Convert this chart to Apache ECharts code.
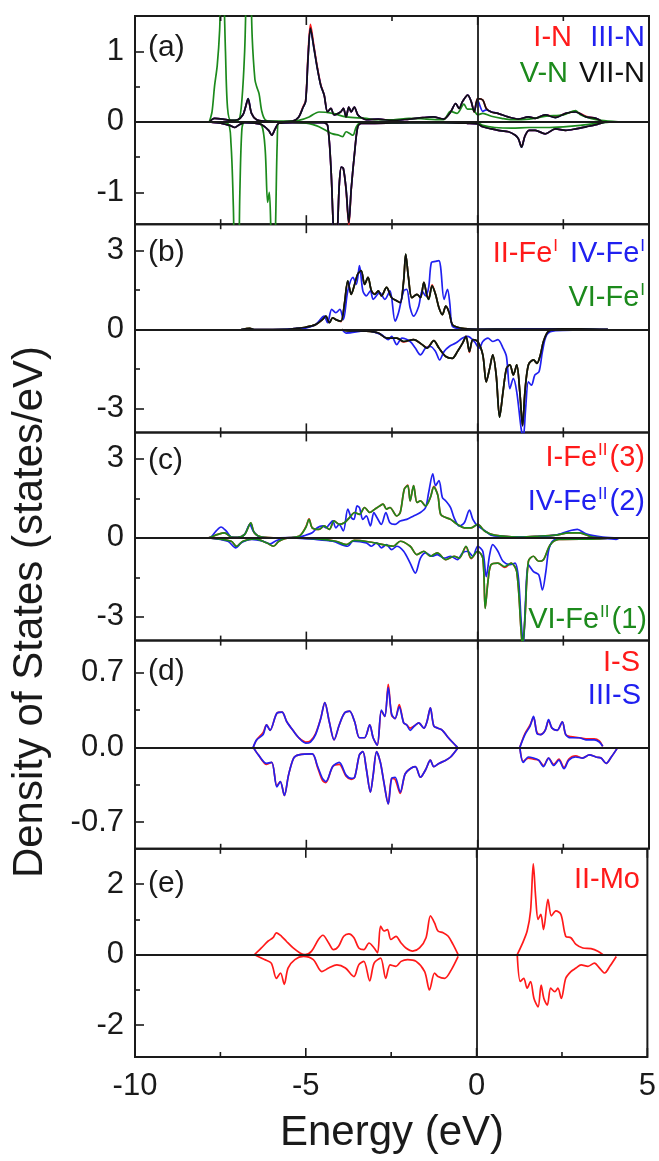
<!DOCTYPE html>
<html><head><meta charset="utf-8">
<script src="https://cdn.jsdelivr.net/npm/echarts@6/dist/echarts.min.js"></script>
<style>html,body{margin:0;padding:0;background:#fff}#c{width:659px;height:1161px}</style>
</head><body><div id="c"></div><script>
// ---------- tick labels ----------
const xTicks = [-10, -5, 0, 5];
const xMinor = [-7.5, -2.5, 2.5];
const aTicks = [-1, 0, 1], aMinor = [-0.5, 0.5];
const bTicks = [-3, 0, 3], bMinor = [-1.5, 1.5];
const cTicks = [-3, 0, 3], cMinor = [-1.5, 1.5];
const dTicks = [-0.7, 0, 0.7], dMinor = [-0.35, 0.35];
const eTicks = [-2, 0, 2], eMinor = [-1, 1];

// ---------- panel (a): N ----------
const aBlackUp = [[-7.83,0],[-7.68,0.05],[-7.44,0.04],[-7.2,0.02],[-7.0,0.03],[-6.85,0.1],[-6.78,0.2],[-6.7,0.33],[-6.6,0.12],[-6.45,0.03],[-6.2,0.01],[-5.8,0],[-5.4,0.01],[-5.22,0.07],[-5.1,0.2],[-5.02,0.29],[-4.95,0.9],[-4.88,1.33],[-4.78,1.05],[-4.68,0.76],[-4.58,0.52],[-4.48,0.38],[-4.38,0.14],[-4.28,0.19],[-4.19,0.1],[-4.0,0.14],[-3.92,0.19],[-3.84,0.07],[-3.76,0.21],[-3.69,0.14],[-3.6,0.21],[-3.5,0.1],[-3.4,0.06],[-3.25,0.03],[-2.9,0.04],[-2.5,0.02],[-2.0,0.04],[-1.6,0.06],[-1.3,0.07],[-1.0,0.04],[-0.79,0.14],[-0.64,0.26],[-0.54,0.19],[-0.44,0.29],[-0.29,0.38],[-0.19,0.29],[-0.1,0.14],[0.0,0.33],[0.15,0.31],[0.25,0.19],[0.4,0.14],[0.59,0.12],[0.89,0.07],[1.19,0.04],[1.48,0.07],[1.68,0.05],[1.97,0.1],[2.27,0.06],[2.57,0.12],[2.86,0.14],[3.16,0.07],[3.45,0.05],[3.65,0.0]];
const aBlackDn = [[-7.83,0],[-7.5,-0.02],[-7.24,-0.05],[-7.09,-0.08],[-6.99,-0.05],[-6.8,-0.01],[-6.5,-0.02],[-6.3,-0.04],[-6.1,-0.12],[-6.01,-0.19],[-5.91,-0.1],[-5.8,-0.02],[-5.4,-0.01],[-4.5,-0.01],[-4.38,-0.05],[-4.28,-0.67],[-4.22,-1.4],[-4.17,-1.8],[-4.1,-1.6],[-4.04,-0.9],[-3.98,-0.64],[-3.92,-0.66],[-3.84,-0.95],[-3.76,-1.43],[-3.69,-0.95],[-3.59,-0.43],[-3.5,-0.07],[-3.4,-0.02],[-3.0,-0.02],[-2.0,-0.01],[-1.0,-0.01],[-0.3,-0.02],[0.0,-0.03],[0.15,-0.07],[0.4,-0.1],[0.6,-0.12],[0.9,-0.14],[1.1,-0.19],[1.19,-0.24],[1.28,-0.36],[1.38,-0.2],[1.5,-0.12],[1.68,-0.12],[1.97,-0.17],[2.27,-0.1],[2.57,-0.12],[2.86,-0.1],[3.16,-0.07],[3.45,-0.04],[3.65,-0.01],[3.8,0]];
const aRedUp = [[-7.83,0],[-7.68,0.05],[-7.44,0.04],[-7.2,0.02],[-7.0,0.03],[-6.85,0.1],[-6.78,0.2],[-6.7,0.32],[-6.6,0.12],[-6.45,0.03],[-6.2,0.01],[-5.8,0],[-5.4,0.01],[-5.22,0.07],[-5.1,0.21],[-5.02,0.3],[-4.95,0.95],[-4.88,1.38],[-4.78,1.08],[-4.68,0.78],[-4.58,0.53],[-4.48,0.38],[-4.38,0.14],[-4.28,0.19],[-4.19,0.1],[-4.0,0.14],[-3.92,0.19],[-3.84,0.07],[-3.76,0.21],[-3.69,0.14],[-3.6,0.21],[-3.5,0.1],[-3.4,0.06],[-3.25,0.03],[-2.9,0.04],[-2.5,0.02],[-2.0,0.04],[-1.6,0.06],[-1.3,0.07],[-1.0,0.04],[-0.79,0.14],[-0.64,0.26],[-0.54,0.19],[-0.44,0.29],[-0.29,0.38],[-0.19,0.29],[-0.1,0.14],[0.0,0.33],[0.15,0.31],[0.25,0.19],[0.4,0.14],[0.59,0.12],[0.89,0.07],[1.19,0.04],[1.48,0.07],[1.68,0.05],[1.97,0.1],[2.27,0.07],[2.57,0.12],[2.86,0.14],[3.16,0.08],[3.45,0.05],[3.65,0.0]];
const aRedDn = [[-7.83,0],[-7.5,-0.02],[-7.24,-0.05],[-7.09,-0.08],[-6.99,-0.05],[-6.8,-0.01],[-6.5,-0.02],[-6.3,-0.04],[-6.1,-0.12],[-6.01,-0.19],[-5.91,-0.1],[-5.8,-0.02],[-5.4,-0.01],[-4.5,-0.01],[-4.38,-0.05],[-4.28,-0.67],[-4.22,-1.4],[-4.17,-1.8],[-4.1,-1.6],[-4.04,-0.9],[-3.98,-0.64],[-3.92,-0.66],[-3.84,-0.97],[-3.76,-1.46],[-3.69,-0.96],[-3.59,-0.43],[-3.5,-0.07],[-3.4,-0.02],[-3.0,-0.02],[-2.0,-0.01],[-1.0,-0.01],[-0.3,-0.02],[0.0,-0.03],[0.15,-0.07],[0.4,-0.1],[0.6,-0.12],[0.9,-0.14],[1.1,-0.19],[1.19,-0.24],[1.28,-0.35],[1.38,-0.2],[1.5,-0.12],[1.68,-0.12],[1.97,-0.17],[2.27,-0.1],[2.57,-0.12],[2.86,-0.1],[3.16,-0.07],[3.45,-0.04],[3.65,-0.01],[3.8,0]];
const aBlueUp = [[-7.83,0],[-7.68,0.05],[-7.44,0.04],[-7.2,0.02],[-7.0,0.03],[-6.85,0.1],[-6.78,0.2],[-6.7,0.33],[-6.6,0.12],[-6.45,0.03],[-6.2,0.01],[-5.8,0],[-5.4,0.01],[-5.22,0.07],[-5.1,0.2],[-5.02,0.29],[-4.95,0.9],[-4.88,1.32],[-4.78,1.05],[-4.68,0.76],[-4.58,0.52],[-4.48,0.38],[-4.38,0.14],[-4.28,0.19],[-4.19,0.1],[-4.0,0.14],[-3.92,0.19],[-3.84,0.07],[-3.76,0.21],[-3.69,0.14],[-3.6,0.21],[-3.5,0.1],[-3.4,0.06],[-3.25,0.03],[-2.9,0.04],[-2.5,0.02],[-2.0,0.04],[-1.6,0.06],[-1.3,0.07],[-1.0,0.04],[-0.79,0.14],[-0.64,0.26],[-0.54,0.19],[-0.44,0.29],[-0.29,0.38],[-0.19,0.29],[-0.1,0.15],[0.0,0.3],[0.15,0.15],[0.25,0.17],[0.4,0.14],[0.59,0.12],[0.89,0.07],[1.19,0.04],[1.48,0.07],[1.68,0.05],[1.97,0.1],[2.27,0.06],[2.57,0.12],[2.86,0.14],[3.16,0.07],[3.45,0.05],[3.65,0.0]];
const aBlueDn = [[-7.83,0],[-7.5,-0.02],[-7.24,-0.05],[-7.09,-0.08],[-6.99,-0.05],[-6.8,-0.01],[-6.5,-0.02],[-6.3,-0.04],[-6.1,-0.12],[-6.01,-0.19],[-5.91,-0.1],[-5.8,-0.02],[-5.4,-0.01],[-4.5,-0.01],[-4.38,-0.05],[-4.28,-0.67],[-4.22,-1.4],[-4.17,-1.8],[-4.1,-1.6],[-4.04,-0.9],[-3.98,-0.64],[-3.92,-0.66],[-3.84,-0.95],[-3.76,-1.42],[-3.69,-0.95],[-3.59,-0.43],[-3.5,-0.07],[-3.4,-0.02],[-3.0,-0.02],[-2.0,-0.01],[-1.0,-0.01],[-0.3,-0.02],[0.0,-0.03],[0.15,-0.07],[0.4,-0.1],[0.6,-0.12],[0.9,-0.14],[1.1,-0.19],[1.19,-0.24],[1.28,-0.36],[1.38,-0.2],[1.5,-0.12],[1.68,-0.12],[1.97,-0.17],[2.27,-0.1],[2.57,-0.12],[2.86,-0.1],[3.16,-0.07],[3.45,-0.04],[3.65,-0.01],[3.8,0]];
const aGreenUp = [[-7.83,0],[-7.75,0.15],[-7.68,0.5],[-7.6,0.8],[-7.53,1.3],[-7.47,2.2],[-7.42,2.0],[-7.36,1.0],[-7.3,0.2],[-7.2,0.02],[-7.0,0.02],[-6.9,0.2],[-6.8,1.0],[-6.73,2.2],[-6.66,2.4],[-6.58,1.2],[-6.5,0.6],[-6.45,0.5],[-6.38,0.4],[-6.3,0.15],[-6.2,0.03],[-6.0,0.01],[-5.5,0.01],[-5.22,0.02],[-4.92,0.07],[-4.63,0.14],[-4.23,0.12],[-3.84,0.07],[-3.25,0.05],[-3.0,0.03],[-2.5,0.03],[-2.0,0.05],[-1.5,0.04],[-1.0,0.03],[-0.79,0.15],[-0.6,0.12],[-0.4,0.25],[-0.3,0.18],[-0.15,0.18],[0,0.1],[0.15,0.12],[0.4,0.08],[0.7,0.05],[1.0,0.03],[1.5,0.04],[2.0,0.08],[2.5,0.1],[2.86,0.16],[3.0,0.1],[3.3,0.05],[3.6,0.02],[4.1,0]];
const aGreenDn = [[-7.83,0],[-7.3,-0.02],[-7.2,-0.3],[-7.13,-1.2],[-7.07,-2.4],[-7.0,-2.4],[-6.94,-1.0],[-6.88,-0.1],[-6.8,0],[-6.5,0],[-6.3,-0.05],[-6.2,-0.4],[-6.13,-1.14],[-6.08,-1.0],[-6.03,-1.6],[-5.96,-2.4],[-5.9,-1.5],[-5.85,-0.3],[-5.8,0],[-5.0,-0.02],[-4.8,-0.04],[-4.63,-0.07],[-4.4,-0.13],[-4.23,-0.17],[-4.05,-0.19],[-3.94,-0.21],[-3.84,-0.14],[-3.72,-0.17],[-3.64,-0.19],[-3.55,-0.08],[-3.45,-0.02],[-2.0,-0.01],[0,-0.01],[0.15,-0.05],[0.5,-0.08],[1.0,-0.09],[1.5,-0.08],[2.0,-0.08],[2.5,-0.07],[3.0,-0.05],[3.5,-0.02],[3.9,0]];

// ---------- panel (b): Fe(I) ----------
const bBlackUp = [[-6.9,0],[-6.65,0.05],[-6.5,0],[-5.6,0.01],[-5.32,0.04],[-5.02,0.09],[-4.73,0.19],[-4.53,0.38],[-4.43,0.51],[-4.33,0.26],[-4.23,0.45],[-4.14,0.38],[-3.99,0.32],[-3.89,0.96],[-3.79,1.85],[-3.69,1.34],[-3.59,1.72],[-3.5,2.11],[-3.4,2.24],[-3.3,1.72],[-3.2,1.98],[-3.1,1.47],[-3.0,1.34],[-2.9,1.47],[-2.81,1.28],[-2.66,1.6],[-2.51,1.21],[-2.36,1.09],[-2.26,1.02],[-2.16,1.85],[-2.1,2.87],[-2.02,1.98],[-1.92,1.21],[-1.77,1.34],[-1.67,1.21],[-1.57,1.79],[-1.48,1.28],[-1.43,1.15],[-1.33,1.66],[-1.23,1.34],[-1.13,0.83],[-1.03,0.57],[-0.93,0.89],[-0.83,0.64],[-0.74,0.19],[-0.59,0.09],[-0.39,0.04],[0,0.01],[1.0,0.02],[2.0,0.02],[3.0,0.03],[3.8,0]];
const bRedUp = [[-6.9,0],[-6.65,0.05],[-6.5,0],[-5.6,0.01],[-5.32,0.04],[-5.02,0.09],[-4.73,0.19],[-4.53,0.38],[-4.43,0.5],[-4.33,0.27],[-4.23,0.45],[-4.14,0.38],[-3.99,0.3],[-3.89,0.96],[-3.79,1.83],[-3.69,1.34],[-3.59,1.72],[-3.5,2.11],[-3.4,2.22],[-3.3,1.72],[-3.2,1.98],[-3.1,1.47],[-3.0,1.36],[-2.9,1.47],[-2.81,1.28],[-2.66,1.6],[-2.51,1.21],[-2.36,1.09],[-2.26,1.02],[-2.16,1.85],[-2.1,2.85],[-2.02,1.98],[-1.92,1.21],[-1.77,1.34],[-1.67,1.21],[-1.57,1.79],[-1.48,1.3],[-1.43,1.2],[-1.33,1.7],[-1.23,1.34],[-1.13,0.83],[-1.03,0.57],[-0.93,0.89],[-0.83,0.64],[-0.74,0.19],[-0.59,0.09],[-0.39,0.04],[0,0.01],[1.0,0.02],[2.0,0.02],[3.0,0.03],[3.8,0]];
const bBlueUp = [[-6.9,0],[-5.6,0.01],[-5.37,0.04],[-5.02,0.06],[-4.73,0.19],[-4.48,0.51],[-4.38,0.26],[-4.26,0.77],[-4.14,0.64],[-4.02,0.77],[-3.92,0.38],[-3.79,1.47],[-3.64,1.98],[-3.54,1.72],[-3.45,2.43],[-3.35,1.47],[-3.25,1.28],[-3.13,1.47],[-3.05,1.15],[-2.86,1.4],[-2.71,1.15],[-2.56,1.47],[-2.41,0.32],[-2.31,0.64],[-2.16,1.47],[-2.07,1.53],[-1.97,0.83],[-1.87,0.51],[-1.72,0.89],[-1.62,1.47],[-1.52,1.28],[-1.43,1.6],[-1.35,2.55],[-1.23,2.59],[-1.13,2.62],[-1.08,2.36],[-0.98,1.15],[-0.88,1.53],[-0.81,0.96],[-0.74,0.13],[-0.54,0.04],[-0.3,0.01],[1,0.02],[2,0.03],[3,0.02],[3.8,0]];
const bBlackDn = [[-3.95,0],[-3.84,-0.04],[-3.25,-0.06],[-2.9,-0.13],[-2.66,-0.32],[-2.36,-0.32],[-2.16,-0.45],[-1.87,-0.38],[-1.62,-0.57],[-1.48,-0.7],[-1.28,-0.42],[-1.13,-0.7],[-0.93,-1.02],[-0.74,-1.09],[-0.59,-0.83],[-0.44,-0.51],[-0.34,-0.26],[-0.24,-0.83],[-0.14,-0.38],[0,-0.45],[0.15,-0.96],[0.25,-1.98],[0.35,-1.47],[0.44,-0.96],[0.54,-1.72],[0.64,-3.32],[0.74,-2.36],[0.84,-1.47],[0.94,-1.34],[1.04,-1.72],[1.14,-1.34],[1.23,-2.36],[1.31,-3.64],[1.38,-2.36],[1.48,-1.34],[1.63,-1.15],[1.73,-1.28],[1.83,-0.96],[1.92,-0.45],[2.07,-0.06],[2.37,0],[3.0,-0.02],[3.8,0]];
const bRedDn = [[-3.95,0],[-3.84,-0.04],[-3.25,-0.06],[-2.9,-0.13],[-2.66,-0.32],[-2.36,-0.32],[-2.16,-0.47],[-1.87,-0.38],[-1.62,-0.57],[-1.48,-0.68],[-1.28,-0.42],[-1.13,-0.7],[-0.93,-1.02],[-0.74,-1.09],[-0.59,-0.83],[-0.44,-0.51],[-0.34,-0.26],[-0.24,-0.86],[-0.14,-0.38],[0,-0.45],[0.15,-0.96],[0.25,-1.98],[0.35,-1.47],[0.44,-0.96],[0.54,-1.72],[0.64,-3.3],[0.74,-2.36],[0.84,-1.47],[0.94,-1.34],[1.04,-1.72],[1.14,-1.34],[1.23,-2.36],[1.31,-3.64],[1.38,-2.36],[1.48,-1.34],[1.63,-1.15],[1.73,-1.28],[1.83,-0.96],[1.92,-0.45],[2.07,-0.06],[2.37,0],[3.0,-0.02],[3.8,0]];
const bBlueDn = [[-3.95,0],[-3.84,-0.13],[-3.25,-0.04],[-2.81,-0.19],[-2.61,-0.38],[-2.51,-0.26],[-2.36,-0.57],[-2.21,-0.32],[-1.97,-0.45],[-1.82,-0.7],[-1.67,-0.96],[-1.52,-0.7],[-1.38,-0.64],[-1.23,-0.83],[-1.11,-1.15],[-0.98,-0.83],[-0.83,-0.64],[-0.64,-0.51],[-0.44,-0.32],[-0.29,-0.26],[-0.1,-0.45],[0.05,-0.7],[0.15,-0.45],[0.3,-0.32],[0.44,-0.45],[0.59,-0.38],[0.74,-0.7],[0.84,-1.02],[0.94,-2.24],[1.04,-1.85],[1.14,-2.36],[1.27,-3.77],[1.33,-4.1],[1.4,-3.0],[1.48,-1.98],[1.57,-2.11],[1.67,-1.72],[1.79,-1.6],[1.89,-0.83],[2.02,-0.19],[2.27,-0.04],[3.0,-0.02],[3.8,0]];

// ---------- panel (c): Fe(II) ----------
const cBlueUp = [[-7.85,0],[-7.78,0.03],[-7.63,0.26],[-7.49,0.41],[-7.34,0.26],[-7.19,0.03],[-7.0,0.02],[-6.8,0.13],[-6.65,0.51],[-6.55,0.26],[-6.4,0.06],[-6.0,0],[-5.5,0.01],[-5.2,0.03],[-5.02,0.1],[-4.83,0.19],[-4.68,0.38],[-4.53,0.45],[-4.43,0.38],[-4.33,0.51],[-4.23,0.64],[-4.14,0.38],[-4.04,0.51],[-3.92,0.26],[-3.79,1.09],[-3.69,0.77],[-3.61,0.7],[-3.52,1.21],[-3.45,1.15],[-3.35,0.7],[-3.25,0.83],[-3.13,0.45],[-3.03,0.96],[-2.94,0.77],[-2.81,0.51],[-2.68,0.96],[-2.56,0.57],[-2.41,0.51],[-2.26,0.64],[-2.07,0.7],[-1.87,0.83],[-1.67,0.96],[-1.52,1.15],[-1.43,1.72],[-1.31,2.43],[-1.23,1.98],[-1.13,2.17],[-1.03,1.53],[-0.93,1.4],[-0.79,1.15],[-0.69,0.77],[-0.54,0.45],[-0.39,0.57],[-0.24,1.05],[-0.14,0.7],[0,0.45],[0.2,0.28],[0.39,0.1],[0.69,0.06],[1.19,0.04],[1.68,0.05],[2.27,0.1],[2.66,0.26],[2.91,0.32],[3.16,0.15],[3.65,0.03],[4.14,0]];
const cGreenUp = [[-7.85,0],[-7.78,0.03],[-7.58,0.13],[-7.39,0.19],[-7.19,0.03],[-7.0,0.02],[-6.8,0.13],[-6.62,0.57],[-6.52,0.19],[-6.3,0.03],[-5.8,0],[-5.22,0.06],[-5.02,0.38],[-4.92,0.7],[-4.83,0.38],[-4.63,0.32],[-4.48,0.45],[-4.33,0.32],[-4.19,0.64],[-4.04,0.51],[-3.89,0.57],[-3.74,0.77],[-3.59,0.96],[-3.45,0.89],[-3.3,1.15],[-3.15,0.96],[-3.0,1.09],[-2.86,1.21],[-2.76,1.28],[-2.66,1.09],[-2.56,1.15],[-2.36,0.83],[-2.26,0.96],[-2.14,1.85],[-2.04,1.98],[-1.97,1.4],[-1.87,1.98],[-1.77,1.34],[-1.67,1.4],[-1.52,1.21],[-1.38,1.53],[-1.28,1.92],[-1.16,1.6],[-1.08,0.89],[-0.93,0.77],[-0.79,0.7],[-0.59,0.51],[-0.39,0.38],[-0.19,0.38],[0,0.51],[0.2,0.26],[0.49,0.1],[1.19,0.03],[1.68,0.06],[2.27,0.1],[2.66,0.19],[2.96,0.19],[3.35,0.03],[3.84,0]];
const cRedUp = [[-7.85,0],[-7.78,0.03],[-7.58,0.13],[-7.39,0.19],[-7.19,0.03],[-7.0,0.02],[-6.8,0.13],[-6.62,0.56],[-6.52,0.19],[-6.3,0.03],[-5.8,0],[-5.22,0.06],[-5.02,0.4],[-4.92,0.72],[-4.83,0.38],[-4.63,0.32],[-4.48,0.45],[-4.33,0.32],[-4.19,0.64],[-4.04,0.51],[-3.89,0.57],[-3.74,0.77],[-3.59,0.96],[-3.45,0.89],[-3.3,1.15],[-3.15,0.96],[-3.0,1.09],[-2.86,1.21],[-2.76,1.28],[-2.66,1.09],[-2.56,1.15],[-2.36,0.83],[-2.26,0.96],[-2.14,1.85],[-2.04,2.0],[-1.97,1.4],[-1.87,1.98],[-1.77,1.34],[-1.67,1.4],[-1.52,1.21],[-1.38,1.53],[-1.28,1.95],[-1.16,1.6],[-1.08,0.89],[-0.93,0.77],[-0.79,0.7],[-0.59,0.51],[-0.39,0.38],[-0.19,0.38],[0,0.51],[0.2,0.26],[0.49,0.1],[1.19,0.03],[1.68,0.06],[2.27,0.1],[2.66,0.19],[2.96,0.19],[3.35,0.03],[3.84,0]];
const cBlueDn = [[-7.85,0],[-7.29,-0.13],[-7.06,-0.38],[-6.9,-0.19],[-6.6,-0.06],[-6.26,-0.13],[-6.06,-0.23],[-5.91,-0.13],[-5.6,0],[-4.73,-0.06],[-4.23,-0.13],[-3.79,-0.32],[-3.64,-0.13],[-3.25,-0.19],[-3.1,-0.32],[-2.95,-0.19],[-2.81,-0.38],[-2.66,-0.26],[-2.51,-0.45],[-2.36,-0.32],[-2.16,-0.51],[-1.97,-0.96],[-1.82,-1.34],[-1.67,-0.77],[-1.52,-0.57],[-1.33,-0.7],[-1.18,-0.64],[-0.98,-0.77],[-0.79,-0.7],[-0.59,-0.83],[-0.44,-0.57],[-0.29,-0.51],[-0.14,-0.7],[0,-0.32],[0.15,-0.51],[0.25,-1.47],[0.35,-0.64],[0.44,-0.26],[0.59,-0.51],[0.74,-0.89],[0.94,-1.02],[1.09,-0.96],[1.19,-1.53],[1.27,-3.19],[1.33,-4.1],[1.4,-2.3],[1.48,-1.02],[1.63,-1.28],[1.78,-1.4],[1.89,-1.98],[1.99,-1.28],[2.09,-0.38],[2.27,-0.06],[3.0,0],[3.8,-0.03],[4.04,-0.06],[4.14,0]];
const cGreenDn = [[-7.85,0],[-7.19,-0.13],[-7.04,-0.32],[-6.85,-0.13],[-6.5,-0.04],[-6.16,-0.19],[-5.96,-0.32],[-5.8,-0.13],[-5.5,0],[-4.7,-0.04],[-4.14,-0.13],[-3.84,-0.26],[-3.6,-0.1],[-3.2,-0.15],[-2.76,-0.26],[-2.46,-0.32],[-2.26,-0.13],[-1.97,-0.32],[-1.77,-0.64],[-1.57,-0.51],[-1.38,-0.7],[-1.18,-0.57],[-0.93,-0.83],[-0.69,-0.7],[-0.54,-0.77],[-0.34,-0.32],[-0.19,-0.77],[0,-0.51],[0.15,-0.77],[0.22,-2.68],[0.3,-1.66],[0.39,-1.02],[0.59,-0.96],[0.79,-1.09],[0.98,-0.96],[1.14,-1.28],[1.27,-3.58],[1.31,-4.1],[1.38,-3.07],[1.48,-0.89],[1.63,-0.7],[1.78,-0.89],[1.92,-0.83],[2.12,-0.26],[2.37,-0.06],[3.5,-0.04],[3.84,0]];
const cRedDn = [[-7.85,0],[-7.19,-0.13],[-7.04,-0.32],[-6.85,-0.13],[-6.5,-0.04],[-6.16,-0.19],[-5.96,-0.32],[-5.8,-0.13],[-5.5,0],[-4.7,-0.04],[-4.14,-0.13],[-3.84,-0.26],[-3.6,-0.1],[-3.2,-0.15],[-2.76,-0.26],[-2.46,-0.32],[-2.26,-0.13],[-1.97,-0.32],[-1.77,-0.64],[-1.57,-0.51],[-1.38,-0.7],[-1.18,-0.57],[-0.93,-0.83],[-0.69,-0.7],[-0.54,-0.77],[-0.34,-0.34],[-0.19,-0.79],[0,-0.51],[0.15,-0.77],[0.22,-2.66],[0.3,-1.66],[0.39,-1.02],[0.59,-0.96],[0.79,-1.12],[0.98,-0.96],[1.14,-1.28],[1.27,-3.58],[1.31,-4.1],[1.38,-3.07],[1.48,-0.89],[1.63,-0.7],[1.78,-0.89],[1.92,-0.83],[2.12,-0.26],[2.37,-0.06],[3.5,-0.04],[3.84,0]];

// ---------- panel (d): S ----------
const dBlueUpL = [[-6.55,0],[-6.45,0.07],[-6.26,0.12],[-6.16,0.21],[-6.06,0.16],[-5.86,0.32],[-5.71,0.33],[-5.57,0.24],[-5.37,0.15],[-5.22,0.09],[-5.02,0.04],[-4.88,0.05],[-4.73,0.12],[-4.58,0.27],[-4.46,0.42],[-4.33,0.24],[-4.19,0.07],[-4.04,0.21],[-3.89,0.32],[-3.74,0.34],[-3.59,0.24],[-3.45,0.09],[-3.3,0.09],[-3.15,0.21],[-3.05,0.09],[-2.93,0.02],[-2.81,0.35],[-2.71,0.29],[-2.61,0.56],[-2.51,0.31],[-2.41,0.27],[-2.29,0.38],[-2.16,0.23],[-2.07,0.21],[-1.97,0.16],[-1.85,0.2],[-1.72,0.23],[-1.57,0.18],[-1.48,0.24],[-1.38,0.37],[-1.28,0.2],[-1.16,0.18],[-1.03,0.16],[-0.88,0.1],[-0.74,0.05],[-0.59,0]];
const dRedUpL = [[-6.55,0],[-6.45,0.07],[-6.26,0.14],[-6.16,0.21],[-6.06,0.16],[-5.86,0.32],[-5.71,0.33],[-5.57,0.24],[-5.37,0.15],[-5.22,0.09],[-5.02,0.05],[-4.88,0.06],[-4.73,0.13],[-4.58,0.27],[-4.46,0.42],[-4.33,0.24],[-4.19,0.07],[-4.04,0.21],[-3.89,0.32],[-3.74,0.34],[-3.59,0.24],[-3.45,0.09],[-3.3,0.09],[-3.15,0.21],[-3.05,0.09],[-2.93,0.02],[-2.81,0.34],[-2.71,0.29],[-2.61,0.59],[-2.51,0.3],[-2.41,0.27],[-2.29,0.4],[-2.16,0.23],[-2.07,0.21],[-1.97,0.18],[-1.85,0.2],[-1.72,0.23],[-1.57,0.18],[-1.48,0.24],[-1.38,0.37],[-1.28,0.2],[-1.16,0.18],[-1.03,0.16],[-0.88,0.1],[-0.74,0.05],[-0.59,0]];
const dBlueDnL = [[-6.55,0],[-6.4,-0.07],[-6.16,-0.15],[-6.01,-0.14],[-5.86,-0.37],[-5.76,-0.32],[-5.64,-0.45],[-5.52,-0.26],[-5.37,-0.1],[-5.22,-0.07],[-4.83,-0.06],[-4.68,-0.17],[-4.53,-0.29],[-4.43,-0.32],[-4.23,-0.18],[-4.04,-0.14],[-3.84,-0.26],[-3.69,-0.29],[-3.59,-0.28],[-3.45,-0.07],[-3.35,-0.04],[-3.25,-0.2],[-3.13,-0.42],[-3.05,-0.26],[-2.95,-0.04],[-2.84,-0.14],[-2.74,-0.32],[-2.61,-0.53],[-2.51,-0.29],[-2.41,-0.28],[-2.26,-0.42],[-2.12,-0.25],[-1.97,-0.2],[-1.82,-0.18],[-1.67,-0.28],[-1.52,-0.21],[-1.38,-0.12],[-1.28,-0.18],[-1.13,-0.15],[-0.93,-0.12],[-0.79,-0.09],[-0.59,-0.01]];
const dRedDnL = [[-6.55,0],[-6.4,-0.07],[-6.16,-0.16],[-6.01,-0.14],[-5.86,-0.36],[-5.76,-0.32],[-5.64,-0.45],[-5.52,-0.26],[-5.37,-0.1],[-5.22,-0.07],[-4.83,-0.06],[-4.68,-0.18],[-4.53,-0.31],[-4.43,-0.33],[-4.23,-0.18],[-4.04,-0.16],[-3.84,-0.27],[-3.69,-0.3],[-3.59,-0.28],[-3.45,-0.07],[-3.35,-0.04],[-3.25,-0.2],[-3.13,-0.42],[-3.05,-0.26],[-2.95,-0.04],[-2.84,-0.14],[-2.74,-0.32],[-2.61,-0.53],[-2.51,-0.29],[-2.41,-0.3],[-2.26,-0.43],[-2.12,-0.25],[-1.97,-0.2],[-1.82,-0.18],[-1.67,-0.28],[-1.52,-0.21],[-1.38,-0.12],[-1.28,-0.18],[-1.13,-0.15],[-0.93,-0.12],[-0.79,-0.09],[-0.59,-0.01]];
const dBlueUpR = [[1.23,0],[1.38,0.12],[1.53,0.2],[1.63,0.29],[1.73,0.13],[1.83,0.12],[1.97,0.16],[2.07,0.26],[2.17,0.18],[2.32,0.16],[2.47,0.24],[2.57,0.12],[2.71,0.09],[2.96,0.09],[3.16,0.07],[3.4,0.07],[3.55,0.05],[3.65,0.01]];
const dRedUpR = [[1.23,0],[1.38,0.13],[1.53,0.21],[1.63,0.28],[1.73,0.14],[1.83,0.12],[1.97,0.16],[2.07,0.25],[2.17,0.18],[2.32,0.16],[2.47,0.24],[2.57,0.12],[2.71,0.1],[2.96,0.09],[3.16,0.08],[3.4,0.08],[3.55,0.06],[3.65,0.01]];
const dBlueDnR = [[1.23,0],[1.33,-0.14],[1.48,-0.09],[1.63,-0.1],[1.78,-0.12],[1.92,-0.18],[2.07,-0.1],[2.22,-0.17],[2.37,-0.12],[2.52,-0.2],[2.66,-0.12],[2.86,-0.09],[3.06,-0.1],[3.26,-0.07],[3.45,-0.09],[3.6,-0.1],[3.75,-0.15],[3.9,-0.09],[4.09,0]];
const dRedDnR = [[1.23,0],[1.33,-0.13],[1.48,-0.1],[1.63,-0.11],[1.78,-0.12],[1.92,-0.17],[2.07,-0.1],[2.22,-0.16],[2.37,-0.11],[2.52,-0.19],[2.66,-0.11],[2.86,-0.08],[3.06,-0.1],[3.26,-0.07],[3.45,-0.09],[3.6,-0.1],[3.75,-0.15],[3.9,-0.09],[4.09,0]];

// ---------- panel (e): Mo ----------
const eRedUpL = [[-6.5,0],[-6.3,0.19],[-6.11,0.38],[-5.96,0.48],[-5.86,0.62],[-5.71,0.52],[-5.57,0.38],[-5.37,0.19],[-5.17,0.05],[-5.02,0],[-4.83,0.1],[-4.63,0.43],[-4.5,0.55],[-4.33,0.33],[-4.19,0.14],[-4.04,0.24],[-3.89,0.52],[-3.74,0.59],[-3.59,0.48],[-3.45,0.19],[-3.3,0.14],[-3.15,0.33],[-3.0,0.19],[-2.9,0.05],[-2.81,0.81],[-2.71,0.67],[-2.61,0.71],[-2.51,0.43],[-2.36,0.52],[-2.21,0.33],[-2.07,0.19],[-1.87,0.1],[-1.67,0.19],[-1.48,0.48],[-1.35,1.1],[-1.23,0.9],[-1.13,0.67],[-0.98,0.62],[-0.83,0.52],[-0.69,0.29],[-0.54,0]];
const eRedDnL = [[-6.5,0],[-6.21,-0.14],[-6.01,-0.24],[-5.86,-0.67],[-5.74,-0.52],[-5.63,-0.84],[-5.52,-0.38],[-5.32,-0.14],[-5.07,-0.05],[-4.78,-0.14],[-4.53,-0.48],[-4.33,-0.38],[-4.09,-0.29],[-3.84,-0.38],[-3.59,-0.62],[-3.45,-0.29],[-3.3,-0.19],[-3.13,-0.74],[-3.0,-0.24],[-2.81,-0.1],[-2.66,-0.67],[-2.53,-0.29],[-2.36,-0.33],[-2.21,-0.19],[-2.02,-0.14],[-1.77,-0.19],[-1.52,-0.48],[-1.38,-1.0],[-1.23,-0.52],[-1.13,-0.62],[-0.93,-0.67],[-0.74,-0.43],[-0.54,-0.05]];
const eRedUpR = [[1.19,0],[1.33,0.29],[1.48,0.67],[1.58,1.24],[1.66,2.57],[1.73,1.62],[1.8,1.0],[1.88,1.14],[1.96,0.71],[2.09,1.57],[2.19,1.1],[2.32,1.24],[2.47,1.14],[2.61,0.52],[2.76,0.48],[2.91,0.29],[3.11,0.19],[3.35,0.17],[3.55,0.1],[3.7,0]];
const eRedDnR = [[1.19,0],[1.28,-0.76],[1.38,-0.67],[1.48,-0.95],[1.58,-0.76],[1.68,-1.24],[1.8,-1.48],[1.89,-0.86],[1.97,-1.24],[2.07,-1.43],[2.17,-0.95],[2.29,-1.05],[2.38,-0.95],[2.48,-1.24],[2.61,-0.67],[2.76,-0.48],[2.91,-0.38],[3.06,-0.29],[3.26,-0.33],[3.45,-0.24],[3.6,-0.38],[3.75,-0.52],[3.9,-0.33],[4.09,-0.05]];

// ---------- styling / layout ----------
const RED = '#ff1a1a', BLUE = '#2020f0', GREEN = '#1c8a1c', BLACK = '#111111', AX = '#1a1a1a';
const FONT = "'Liberation Sans', Arial, Helvetica, sans-serif";
const TOP = 16, H = 208.2, LEFT = 135, RIGHT = 10;
const MAJOR_LEN = 9, MINOR_LEN = 5;
const panels = [
  {min: -1.45, max: 1.5, ticks: aTicks, minor: aMinor, dec: 0},
  {min: -3.9, max: 4.0, ticks: bTicks, minor: bMinor, dec: 0},
  {min: -3.9, max: 4.0, ticks: cTicks, minor: cMinor, dec: 0},
  {min: -0.95, max: 1.0, ticks: dTicks, minor: dMinor, dec: 1},
  {min: -2.9, max: 3.0, ticks: eTicks, minor: eMinor, dec: 0}
];

const grids = [], xAxes = [], yAxes = [];
const tickStyle = {color: AX, width: 1.6};
panels.forEach((p, i) => {
  grids.push({left: LEFT, right: RIGHT, top: TOP + i * H, height: H, show: true,
    borderColor: AX, borderWidth: 2, backgroundColor: 'transparent', containLabel: false});
  xAxes.push({gridIndex: i, type: 'value', min: -10, max: 5, interval: 5, position: 'bottom',
    axisLine: {show: false, onZero: false}, axisTick: {show: false},
    axisLabel: {show: i === 4, fontSize: 31, fontFamily: FONT, color: AX, margin: 14},
    splitLine: {show: false}});
  yAxes.push({gridIndex: i, type: 'value', min: p.min, max: p.max, position: 'left',
    axisLine: {show: false, onZero: false},
    axisTick: {show: true, inside: true, length: MAJOR_LEN, customValues: p.ticks, lineStyle: tickStyle},
    axisLabel: {show: true, customValues: p.ticks, fontSize: 31, fontFamily: FONT, color: AX, margin: 11,
      formatter: v => Number(v).toFixed(p.dec)},
    splitLine: {show: false}});
  yAxes.push({gridIndex: i, type: 'value', min: p.min, max: p.max, position: 'left',
    axisLine: {show: false, onZero: false},
    axisTick: {show: true, inside: true, length: MINOR_LEN, customValues: p.minor, lineStyle: tickStyle},
    axisLabel: {show: false}, splitLine: {show: false}});
});

function ln(data, color, gi) {
  return {type: 'line', data: data, xAxisIndex: gi, yAxisIndex: gi * 2,
    showSymbol: false, symbol: 'none', smooth: 0.3, clip: true, silent: true,
    lineStyle: {color: color, width: 1.7}, itemStyle: {color: color}, emphasis: {disabled: true}};
}
function zeroLines(s) {
  s.markLine = {silent: true, symbol: ['none', 'none'], label: {show: false}, animation: false,
    lineStyle: {color: AX, width: 1.8, type: 'solid'}, emphasis: {disabled: true},
    data: [{yAxis: 0}, {xAxis: 0}]};
  return s;
}
// energy-axis tick marks on the top and bottom edge of each panel, placed by the x scale
function xTickSeries(gi) {
  const data = xTicks.map(v => [v, 0, MAJOR_LEN]).concat(xMinor.map(v => [v, 0, MINOR_LEN]));
  return {type: 'custom', xAxisIndex: gi, yAxisIndex: gi * 2, silent: true, clip: false, z: 5,
    data: data,
    renderItem: (params, api) => {
      const x = api.coord([api.value(0), 0])[0];
      const cs = params.coordSys;
      const len = api.value(2);
      const st = {stroke: AX, lineWidth: 1.6};
      return {type: 'group', children: [
        {type: 'line', shape: {x1: x, y1: cs.y + cs.height, x2: x, y2: cs.y + cs.height - len}, style: st},
        {type: 'line', shape: {x1: x, y1: cs.y, x2: x, y2: cs.y + len}, style: st}
      ]};
    }};
}

const series = [
  ln(aRedUp, RED, 0), ln(aRedDn, RED, 0), ln(aBlueUp, BLUE, 0), ln(aBlueDn, BLUE, 0),
  ln(aGreenUp, GREEN, 0), ln(aGreenDn, GREEN, 0), ln(aBlackUp, BLACK, 0), zeroLines(ln(aBlackDn, BLACK, 0)),

  ln(bRedUp, RED, 1), ln(bRedDn, RED, 1), ln(bBlackUp, GREEN, 1), ln(bBlackDn, GREEN, 1),
  ln(bBlueUp, BLUE, 1), ln(bBlueDn, BLUE, 1), ln(bBlackUp, BLACK, 1), zeroLines(ln(bBlackDn, BLACK, 1)),

  ln(cRedUp, RED, 2), ln(cRedDn, RED, 2), ln(cBlueUp, BLUE, 2), ln(cBlueDn, BLUE, 2),
  ln(cGreenUp, GREEN, 2), zeroLines(ln(cGreenDn, GREEN, 2)),

  ln(dRedUpL, RED, 3), ln(dRedDnL, RED, 3), ln(dRedUpR, RED, 3), ln(dRedDnR, RED, 3),
  ln(dBlueUpL, BLUE, 3), ln(dBlueDnL, BLUE, 3), ln(dBlueUpR, BLUE, 3), zeroLines(ln(dBlueDnR, BLUE, 3)),

  ln(eRedUpL, RED, 4), ln(eRedDnL, RED, 4), ln(eRedUpR, RED, 4), zeroLines(ln(eRedDnR, RED, 4)),

  xTickSeries(0), xTickSeries(1), xTickSeries(2), xTickSeries(3), xTickSeries(4)
];

// ---------- texts ----------
function txt(text, x, y, color, size, align) {
  return {type: 'text', x: x, y: y, z: 100, silent: true,
    style: {text: text, fill: color, fontSize: size || 29, fontFamily: FONT, align: align || 'right', verticalAlign: 'middle'}};
}
function supTxt(base, sup, tail, x, y, color) {
  return {type: 'text', x: x, y: y, z: 100, silent: true,
    style: {text: '{b|' + base + '}{s|' + sup + '}' + (tail ? '{b|' + tail + '}' : ''),
      align: 'right', verticalAlign: 'middle',
      rich: {
        b: {fill: color, fontSize: 29, fontFamily: FONT, lineHeight: 32},
        s: {fill: color, fontSize: 17, fontFamily: FONT, lineHeight: 18, verticalAlign: 'top', padding: [0, 2, 0, 1]}
      }}};
}
const graphics = [
  txt('(a)', 148, 48, AX, 30, 'left'),
  txt('(b)', 148, 253, AX, 30, 'left'),
  txt('(c)', 148, 461, AX, 30, 'left'),
  txt('(d)', 148, 672, AX, 30, 'left'),
  txt('(e)', 148, 884, AX, 30, 'left'),
  txt('I-N', 572, 38, RED), txt('III-N', 645, 38, BLUE),
  txt('V-N', 568, 74, GREEN), txt('VII-N', 645, 74, BLACK),
  supTxt('II-Fe', 'I', '', 560, 254, RED), supTxt('IV-Fe', 'I', '', 647, 254, BLUE),
  supTxt('VI-Fe', 'I', '', 647, 298, GREEN),
  supTxt('I-Fe', 'II', '(3)', 645, 458, RED),
  supTxt('IV-Fe', 'II', '(2)', 645, 502, BLUE),
  supTxt('VI-Fe', 'II', '(1)', 647, 620, GREEN),
  txt('I-S', 640, 663, RED), txt('III-S', 641, 696, BLUE),
  txt('II-Mo', 640, 880, RED),
  {type: 'text', x: 392, y: 1133, silent: true,
    style: {text: 'Energy (eV)', fill: AX, fontSize: 42, fontFamily: FONT, align: 'center', verticalAlign: 'middle'}},
  {type: 'text', x: 30, y: 612, rotation: Math.PI / 2, silent: true,
    style: {text: 'Density of States (states/eV)', fill: AX, fontSize: 42, fontFamily: FONT, align: 'center', verticalAlign: 'middle'}}
];

const chart = echarts.init(document.getElementById('c'), null, {renderer: 'canvas'});
chart.setOption({
  animation: false,
  backgroundColor: '#ffffff',
  grid: grids, xAxis: xAxes, yAxis: yAxes,
  series: series, graphic: graphics
});
</script></body></html>
